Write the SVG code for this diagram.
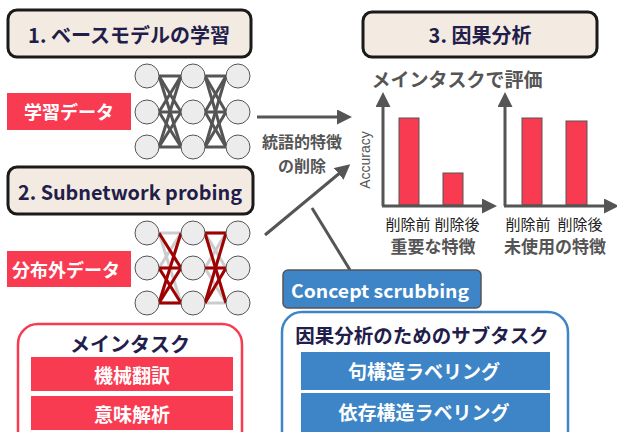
<svg xmlns="http://www.w3.org/2000/svg" width="617" height="432" viewBox="0 0 617 432">
<style>
.title{fill:#f3ebe1;stroke:#1a1a1a;stroke-width:3}
.tt{font-family:"Noto Sans CJK JP","Noto Sans",sans-serif;font-weight:bold;fill:#221d4a;text-anchor:middle;dominant-baseline:central}
.lbl{font-family:"Noto Sans CJK JP",sans-serif;font-weight:bold;fill:#ffffff;text-anchor:middle;dominant-baseline:central}
.gray{font-family:"Noto Sans CJK JP",sans-serif;font-weight:bold;fill:#555555;text-anchor:middle;dominant-baseline:central}
.red{fill:#f93b52}
.blue{fill:#3d85c6}
.node{fill:#ececec;stroke:#555555;stroke-width:1}
.e1{stroke:#555555;stroke-width:3}
.eg{stroke:#cccccc;stroke-width:3}
.er{stroke:#a00000;stroke-width:3}
.ax{stroke:#555555;stroke-width:3;fill:none}
.bar{fill:#f93b52;stroke:#555555;stroke-width:1}
.small{font-family:"Noto Sans CJK JP",sans-serif;font-size:15px;fill:#222222;text-anchor:middle;dominant-baseline:central}
</style>
<defs>
<marker id="ah" markerWidth="5" markerHeight="5" refX="1" refY="2.5" orient="auto" markerUnits="strokeWidth">
<path d="M0,0 L5,2.5 L0,5 z" fill="#555555"/>
</marker>
</defs>

<g id="title1">
<rect class="title" x="8" y="10" width="243" height="47" rx="9"/>
<text class="tt" x="129" y="34" font-size="20">1. ベースモデルの学習</text>
</g>

<g id="title2">
<rect class="title" x="8" y="167" width="245" height="47" rx="9"/>
<text class="tt" x="130" y="191" font-size="20" font-family="'Noto Sans', sans-serif" textLength="224" lengthAdjust="spacingAndGlyphs">2. Subnetwork probing</text>
</g>

<g id="title3">
<rect class="title" x="363" y="12" width="234" height="45" rx="9"/>
<text class="tt" x="480" y="34" font-size="20">3. 因果分析</text>
</g>

<g id="data1">
<rect class="red" x="7" y="93" width="124" height="37"/>
<text class="lbl" x="69" y="111" font-size="18">学習データ</text>
</g>

<g id="data2">
<rect class="red" x="7" y="251" width="124" height="36"/>
<text class="lbl" x="66" y="269" font-size="18">分布外データ</text>
</g>

<g id="net1">
<g class="e1">
<line x1="159" y1="76" x2="181" y2="76"/><line x1="159" y1="76" x2="181" y2="112"/><line x1="159" y1="76" x2="181" y2="147"/>
<line x1="159" y1="112" x2="181" y2="76"/><line x1="159" y1="112" x2="181" y2="112"/><line x1="159" y1="112" x2="181" y2="147"/>
<line x1="159" y1="147" x2="181" y2="76"/><line x1="159" y1="147" x2="181" y2="112"/><line x1="159" y1="147" x2="181" y2="147"/>
<line x1="205" y1="76" x2="226" y2="76"/><line x1="205" y1="76" x2="226" y2="112"/><line x1="205" y1="76" x2="226" y2="147"/>
<line x1="205" y1="112" x2="226" y2="76"/><line x1="205" y1="112" x2="226" y2="112"/><line x1="205" y1="112" x2="226" y2="147"/>
<line x1="205" y1="147" x2="226" y2="76"/><line x1="205" y1="147" x2="226" y2="112"/><line x1="205" y1="147" x2="226" y2="147"/>
</g>
<circle class="node" cx="147" cy="76" r="12"/><circle class="node" cx="147" cy="112" r="12"/><circle class="node" cx="147" cy="147" r="12"/>
<circle class="node" cx="193" cy="76" r="12"/><circle class="node" cx="193" cy="112" r="12"/><circle class="node" cx="193" cy="147" r="12"/>
<circle class="node" cx="238" cy="76" r="12"/><circle class="node" cx="238" cy="112" r="12"/><circle class="node" cx="238" cy="147" r="12"/>
</g>

<g id="net2">
<g class="eg">
<line x1="159" y1="233" x2="181" y2="233"/><line x1="159" y1="233" x2="181" y2="268"/><line x1="159" y1="233" x2="181" y2="303"/>
<line x1="159" y1="268" x2="181" y2="233"/><line x1="159" y1="268" x2="181" y2="268"/><line x1="159" y1="268" x2="181" y2="303"/>
<line x1="159" y1="303" x2="181" y2="233"/><line x1="159" y1="303" x2="181" y2="268"/><line x1="159" y1="303" x2="181" y2="303"/>
<line x1="205" y1="233" x2="226" y2="233"/><line x1="205" y1="233" x2="226" y2="268"/><line x1="205" y1="233" x2="226" y2="303"/>
<line x1="205" y1="268" x2="226" y2="233"/><line x1="205" y1="268" x2="226" y2="268"/><line x1="205" y1="268" x2="226" y2="303"/>
<line x1="205" y1="303" x2="226" y2="233"/><line x1="205" y1="303" x2="226" y2="268"/><line x1="205" y1="303" x2="226" y2="303"/>
</g>
<g class="er">
<line x1="159" y1="233" x2="181" y2="268"/><line x1="181" y1="233" x2="159" y2="303"/>
<line x1="159" y1="268" x2="181" y2="268"/><line x1="159" y1="268" x2="181" y2="303"/>
<line x1="159" y1="303" x2="181" y2="303"/><line x1="159" y1="303" x2="181" y2="268"/>
<line x1="205" y1="233" x2="226" y2="233"/><line x1="205" y1="233" x2="226" y2="303"/>
<line x1="226" y1="233" x2="205" y2="303"/><line x1="205" y1="268" x2="226" y2="268"/>
<line x1="226" y1="268" x2="205" y2="303"/>
</g>
<circle class="node" cx="147" cy="233" r="12"/><circle class="node" cx="147" cy="268" r="12"/><circle class="node" cx="147" cy="303" r="12"/>
<circle class="node" cx="193" cy="233" r="12"/><circle class="node" cx="193" cy="268" r="12"/><circle class="node" cx="193" cy="303" r="12"/>
<circle class="node" cx="238" cy="233" r="12"/><circle class="node" cx="238" cy="268" r="12"/><circle class="node" cx="238" cy="303" r="12"/>
</g>

<g id="connectors">
<line class="ax" x1="257" y1="117" x2="340" y2="117" marker-end="url(#ah)"/>
<line class="ax" x1="265" y1="235" x2="341" y2="172" marker-end="url(#ah)"/>
<line class="ax" x1="312" y1="208" x2="350" y2="270"/>
<text class="gray" x="302" y="141" font-size="16">統語的特徴</text>
<text class="gray" x="302" y="165" font-size="16">の削除</text>
</g>

<g id="charts">
<text class="gray" x="457" y="78" font-size="19">メインタスクで評価</text>
<text x="365" y="160" transform="rotate(-90 365 160)" font-family="'Liberation Sans',sans-serif" font-size="14" fill="#555555" text-anchor="middle" dominant-baseline="central">Accuracy</text>
<rect class="bar" x="399" y="118" width="20" height="87"/>
<rect class="bar" x="443" y="173" width="20" height="32"/>
<line class="ax" x1="383" y1="206" x2="383" y2="104" marker-end="url(#ah)"/>
<line class="ax" x1="382" y1="206" x2="485" y2="206" marker-end="url(#ah)"/>
<text class="small" x="408" y="223">削除前</text>
<text class="small" x="457" y="223">削除後</text>
<text class="gray" x="433" y="245" font-size="17">重要な特徴</text>
<rect class="bar" x="522" y="118" width="20" height="87"/>
<rect class="bar" x="566" y="121" width="21" height="84"/>
<line class="ax" x1="505" y1="206" x2="505" y2="104" marker-end="url(#ah)"/>
<line class="ax" x1="504" y1="206" x2="607" y2="206" marker-end="url(#ah)"/>
<text class="small" x="528" y="223">削除前</text>
<text class="small" x="580" y="223">削除後</text>
<text class="gray" x="555" y="245" font-size="17">未使用の特徴</text>
</g>

<g id="concept">
<rect class="blue" x="283" y="270" width="198" height="38" rx="5" stroke="#555555" stroke-width="1.5"/>
<text class="lbl" x="380" y="290" font-size="18" font-family="'Noto Sans', sans-serif" textLength="178" lengthAdjust="spacingAndGlyphs">Concept scrubbing</text>
</g>

<g id="maintask">
<rect x="18" y="324" width="224" height="130" rx="20" fill="#ffffff" stroke="#f93b52" stroke-width="2.5"/>
<text class="tt" x="130" y="343" font-size="20">メインタスク</text>
<rect class="red" x="31" y="357" width="202" height="34"/>
<text class="lbl" x="132" y="374" font-size="19">機械翻訳</text>
<rect class="red" x="31" y="396" width="202" height="34"/>
<text class="lbl" x="132" y="413" font-size="19">意味解析</text>
</g>

<g id="subtask">
<rect x="282" y="312" width="286" height="140" rx="20" fill="#ffffff" stroke="#3d85c6" stroke-width="2.5"/>
<text class="tt" x="422" y="334" font-size="19.5">因果分析のためのサブタスク</text>
<rect class="blue" x="301" y="352" width="249" height="38"/>
<text class="lbl" x="424" y="370" font-size="19">句構造ラベリング</text>
<rect class="blue" x="301" y="393" width="249" height="40"/>
<text class="lbl" x="424" y="411" font-size="19">依存構造ラベリング</text>
</g>
</svg>
